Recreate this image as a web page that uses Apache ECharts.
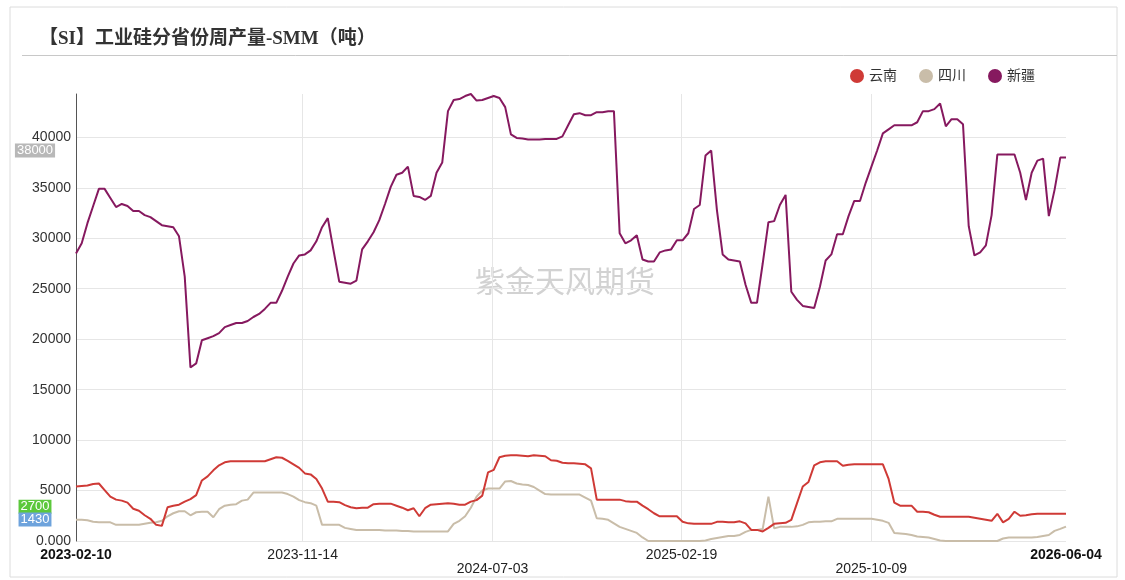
<!DOCTYPE html>
<html>
<head>
<meta charset="utf-8">
<title>工业硅分省份周产量-SMM</title>
<script src="https://cdn.jsdelivr.net/npm/echarts@6/dist/echarts.min.js"></script>
<style>
  html, body { margin: 0; padding: 0; background: #fff; }
  #main { width: 1125px; height: 580px; }
</style>
</head>
<body>
<div id="main"></div>
<script>
var startDate = "2023-02-10";
var endDate = "2026-06-04";
var tickDates = ["2023-02-10", "2023-11-14", "2024-07-03", "2025-02-19", "2025-10-09", "2026-06-04"];
var seriesNames = ["云南", "四川", "新疆"];

// 周度产量（吨）
var yunnan = [
  5400, 5450, 5500, 5650, 5700, 5050, 4400, 4100, 4000, 3800,
  3200, 3000, 2550, 2200, 1600, 1500, 3350, 3500, 3600, 3900,
  4150, 4550, 6000, 6400, 7000, 7500, 7800, 7900, 7900, 7900,
  7900, 7900, 7900, 7900, 8100, 8300, 8250, 7950, 7600, 7250,
  6700, 6600, 6150, 5200, 3900, 3900, 3850, 3550, 3350, 3250,
  3300, 3300, 3650, 3700, 3700, 3700, 3500, 3300, 3050, 3250,
  2450, 3250, 3600, 3650, 3700, 3750, 3700, 3600, 3600, 3900,
  4050, 4500, 6800, 7050, 8300, 8450, 8500, 8500, 8450, 8400,
  8500, 8450, 8400, 8000, 7950, 7750, 7700, 7700, 7650, 7600,
  7200, 4100, 4100, 4100, 4100, 4100, 3950, 3900, 3900, 3500,
  3150, 2750, 2450, 2450, 2450, 2450, 1900, 1750, 1700, 1700,
  1700, 1700, 1900, 1900, 1850, 1850, 1950, 1750, 1100, 1100,
  950, 1300, 1700, 1750, 1800, 2100, 3750, 5400, 5850, 7500,
  7800, 7900, 7900, 7900, 7450, 7550, 7600, 7600, 7600, 7600,
  7600, 7600, 6150, 3800, 3500, 3500, 3500, 2900, 2900, 2850,
  2600, 2400, 2400, 2400, 2400, 2400, 2400, 2300, 2200, 2100,
  2000, 2700, 1850, 2200, 2900, 2500, 2550, 2650, 2700, 2700,
  2700, 2700, 2700, 2700
];
var sichuan = [
  2100, 2100, 2050, 1900, 1850, 1850, 1850, 1600, 1600, 1600,
  1600, 1600, 1700, 1800, 1850, 2000, 2450, 2750, 2950, 2950,
  2550, 2850, 2900, 2900, 2350, 3150, 3500, 3600, 3650, 4000,
  4100, 4800, 4800, 4800, 4800, 4800, 4800, 4650, 4400, 4050,
  3850, 3750, 3500, 1600, 1600, 1600, 1600, 1300, 1200, 1100,
  1100, 1100, 1100, 1100, 1050, 1050, 1050, 1000, 1000, 950,
  950, 950, 950, 950, 950, 950, 1700, 2000, 2450, 3300,
  4400, 5000, 5200, 5200, 5200, 5900, 5950, 5700, 5600, 5550,
  5350, 5000, 4650, 4600, 4600, 4600, 4600, 4600, 4600, 4300,
  4000, 2250, 2200, 2100, 1750, 1400, 1200, 1000, 800, 350,
  0, 0, 0, 0, 0, 0, 0, 0, 0, 0,
  50, 200, 300, 400, 500, 500, 600, 900, 1100, 1100,
  1200, 4400, 1250, 1400, 1400, 1400, 1450, 1600, 1850, 1900,
  1900, 1950, 1950, 2200, 2200, 2200, 2200, 2200, 2200, 2200,
  2100, 2000, 1800, 800, 750, 700, 600, 450, 400, 350,
  200, 50, 0, 0, 0, 0, 0, 0, 0, 0,
  0, 0, 250, 350, 350, 350, 350, 350, 400, 500,
  600, 1000, 1200, 1430
];
var xinjiang = [
  28500, 29500, 31500, 33200, 34900, 34900, 34000, 33100, 33400, 33200,
  32700, 32700, 32300, 32100, 31700, 31300, 31200, 31100, 30200, 26200,
  17200, 17600, 19900, 20100, 20300, 20600, 21200, 21400, 21600, 21600,
  21800, 22200, 22500, 23000, 23600, 23600, 24800, 26200, 27500, 28300,
  28400, 28800, 29700, 31100, 32000, 28800, 25700, 25600, 25500, 25800,
  28900, 29700, 30600, 31800, 33400, 35100, 36300, 36500, 37100, 34200,
  34100, 33800, 34200, 36500, 37500, 42600, 43700, 43800, 44100, 44300,
  43650, 43700, 43900, 44100, 43900, 43000, 40300, 39950, 39900, 39800,
  39800, 39800, 39850, 39850, 39850, 40100, 41200, 42300, 42400, 42200,
  42200, 42500, 42500, 42600, 42600, 30500, 29500, 29800, 30300, 27900,
  27700, 27700, 28600, 28800, 28900, 29800, 29800, 30500, 32900, 33300,
  38200, 38700, 32800, 28400, 27900, 27800, 27700, 25400, 23600, 23600,
  27500, 31600, 31700, 33300, 34300, 24700, 23900, 23300, 23200, 23100,
  25200, 27800, 28400, 30400, 30400, 32200, 33700, 33700, 35500, 37100,
  38700, 40400, 40800, 41200, 41200, 41200, 41200, 41500, 42600, 42600,
  42800, 43350, 41100, 41800, 41800, 41300, 31200, 28300, 28600, 29300,
  32300, 38300, 38300, 38300, 38300, 36500, 33800, 36500, 37700, 37900,
  32200, 34800, 38000, 38000
];

var t0 = +new Date(startDate);
var t1 = +new Date(endDate);
// 周度数据点，在首尾日期之间等距排开
var dates = [];
for (var i = 0; i < xinjiang.length; i++) {
  dates.push(t0 + (t1 - t0) * i / (xinjiang.length - 1));
}
var ticks = tickDates.map(function (d) { return +new Date(d); });

function pairs(values) {
  return values.map(function (v, i) { return [dates[i], v]; });
}

// 左侧最新值标签
function lastBadge(values, bg) {
  var last = values[values.length - 1];
  return {
    symbol: "rect",
    symbolSize: 0,
    silent: true,
    data: [{ coord: [t0, last], value: last }],
    label: {
      show: true,
      position: [-41, -7],
      align: "center",
      verticalAlign: "middle",
      formatter: "{c}",
      color: "#fff",
      backgroundColor: bg,
      fontFamily: "Liberation Sans",
      fontSize: 13,
      lineHeight: 14,
      padding: [0, 2],
    },
  };
}

var chart = echarts.init(document.getElementById("main"));
var font = "'Liberation Sans', 'Noto Sans CJK SC', sans-serif";
var option = {
  animation: false,
  backgroundColor: "#fff",
  title: {
    text: "【SI】工业硅分省份周产量-SMM（吨）",
    left: 34,
    top: 25,
    textStyle: {
      fontFamily: "'Liberation Serif', 'Noto Sans CJK SC', serif",
      fontSize: 19,
      fontWeight: "bold",
      color: "#333",
    },
  },
  graphic: [
    {
      type: "rect",
      shape: { x: 10, y: 7, width: 1107, height: 570 },
      style: { fill: "none", stroke: "#dcdcdc", lineWidth: 1 },
      silent: true,
    },
    {
      type: "line",
      shape: { x1: 22, y1: 55.5, x2: 1117, y2: 55.5 },
      style: { stroke: "#c8c8c8", lineWidth: 1 },
      silent: true,
    },
    {
      type: "text",
      left: 475,
      top: 266,
      z: 0,
      silent: true,
      style: {
        text: "紫金天风期货",
        fontFamily: "'Noto Sans CJK SC', sans-serif",
        fontSize: 30,
        fill: "#d2d2d2",
      },
    },
  ],
  legend: {
    data: seriesNames,
    icon: "circle",
    itemWidth: 14,
    itemHeight: 14,
    itemGap: 22,
    right: 85,
    top: 64,
    textStyle: { fontFamily: font, fontSize: 14, color: "#333" },
  },
  grid: {
    left: 76,
    right: 59,
    top: 94,
    bottom: 39,
    containLabel: false,
  },
  xAxis: {
    type: "value",
    min: t0,
    max: t1,
    axisLine: { show: false },
    axisTick: { show: false, customValues: ticks },
    axisLabel: {
      customValues: ticks,
      showMinLabel: true,
      showMaxLabel: true,
      hideOverlap: false,
      margin: 7,
      fontFamily: font,
      fontSize: 14,
      lineHeight: 14,
      color: "#222",
      formatter: function (value) {
        var k = ticks.indexOf(value);
        if (k < 0) return "";
        var s = tickDates[k];
        if (k === 0 || k === ticks.length - 1) return "{b|" + s + "}";
        if (k === 2 || k === 4) return "\n{n|" + s + "}";
        return "{n|" + s + "}";
      },
      rich: {
        b: { fontFamily: font, fontSize: 14, fontWeight: "bold", color: "#111", lineHeight: 14 },
        n: { fontFamily: font, fontSize: 14, color: "#222", lineHeight: 14 },
      },
    },
    splitLine: {
      show: true,
      showMinLine: false,
      showMaxLine: false,
      lineStyle: { color: "#e6e6e6" },
    },
  },
  yAxis: {
    type: "value",
    min: 0,
    max: "dataMax",
    interval: 5000,
    axisLine: { show: true, lineStyle: { color: "#555" } },
    axisTick: { show: false },
    axisLabel: {
      showMaxLabel: false,
      margin: 5,
      fontFamily: font,
      fontSize: 14,
      color: "#333",
      formatter: function (v) {
        return v === 0 ? "0.000" : String(v);
      },
    },
    splitLine: {
      show: true,
      showMaxLine: false,
      lineStyle: { color: "#e6e6e6" },
    },
  },
  series: [
    {
      name: "云南",
      type: "line",
      data: pairs(yunnan),
      showSymbol: false,
      symbol: "none",
      z: 3,
      lineStyle: { width: 2 },
      itemStyle: { color: "#cf3a36" },
      markPoint: lastBadge(yunnan, "#5cc83c"),
    },
    {
      name: "四川",
      type: "line",
      data: pairs(sichuan),
      showSymbol: false,
      symbol: "none",
      z: 2,
      lineStyle: { width: 2 },
      itemStyle: { color: "#c9bda9" },
      markPoint: lastBadge(sichuan, "#6ea3dc"),
    },
    {
      name: "新疆",
      type: "line",
      data: pairs(xinjiang),
      showSymbol: false,
      symbol: "none",
      z: 4,
      lineStyle: { width: 2 },
      itemStyle: { color: "#86195f" },
      markPoint: lastBadge(xinjiang, "#b8b8b8"),
    },
  ],
};
chart.setOption(option);
</script>
</body>
</html>
